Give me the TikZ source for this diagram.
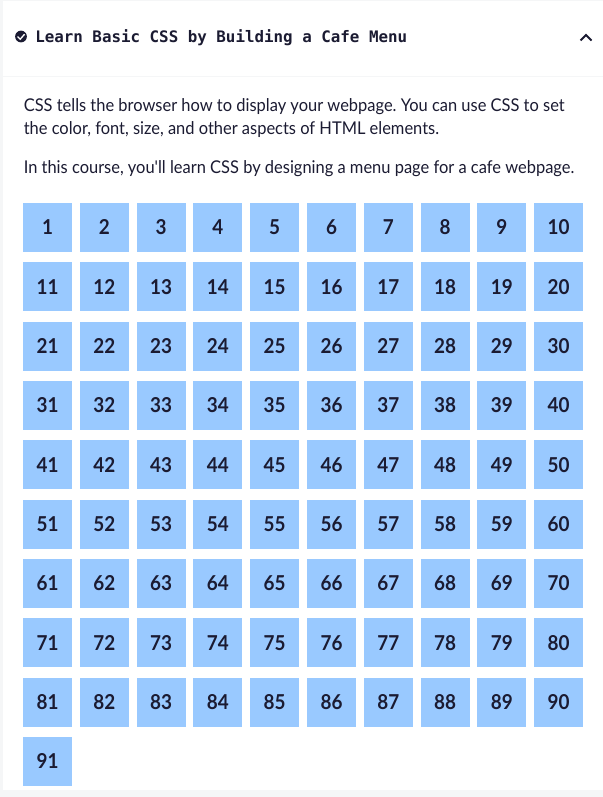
\documentclass[tikz,border=0pt]{standalone}
\usepackage{fontspec}
\setmainfont{Lato}
\setmonofont{DejaVu Sans Mono}
\newfontfamily\bodyface[FakeStretch=0.935]{Lato}
\newfontfamily\stepface[FakeStretch=0.92]{Lato}
\usepackage{xcolor}
\usetikzlibrary{positioning}
\definecolor{pagebg}{HTML}{F5F6F7}
\definecolor{inkdark}{HTML}{1B1B32}
\definecolor{stepblue}{HTML}{99C9FF}
\frenchspacing
\tikzset{
  stepbox/.style={fill=stepblue, text=inkdark, minimum width=36.75pt, minimum height=36.75pt,
    inner sep=0pt, text height=11pt, text depth=0pt, font=\fontsize{15.4}{18}\stepface\bfseries},
  para/.style={anchor=west, inner sep=0pt, text=inkdark, align=left,
    font=\fontsize{13.2}{18}\bodyface},
  heading/.style={anchor=west, inner sep=0pt, text=inkdark,
    font=\fontsize{11.88}{15}\selectfont\ttfamily\bfseries},
  rulebar/.style={draw=pagebg, line width=0.75pt}
}
\begin{document}
\begin{tikzpicture}[x=0.75pt, y=-0.75pt]
\useasboundingbox (0,0) rectangle (603,797);
\fill[pagebg] (0,0) rectangle (603,797);
\fill[white] (3,1) rectangle (603,790);
\coordinate (ruleL) at (3,76);
\coordinate (ruleR) at (603,76);
\draw[rulebar] (ruleL) -- (ruleR);

% header
\node[circle, fill=inkdark, minimum size=8.8pt, inner sep=0pt] (badge) at (21,36.5) {};
\draw[white, line width=1pt] (17.6,36.6) -- (20.2,39.2) -- (24.6,34.2);
\node[heading] (title) at (35,37.5) {Learn Basic CSS by Building a Cafe Menu};
\draw[inkdark, line width=1.4pt] (580.5,40.5) -- (586,35) -- (591.5,40.5);

% intro text
\node[para] (introa) at (23.5,106.5) {CSS tells the browser how to display your webpage. You can use CSS to set};
\node[para] (introb) at (23.5,130) {the color, font, size, and other aspects of HTML elements.};
\node[para] (introc) at (23.5,169) {In this course, you'll learn CSS by designing a menu page for a cafe webpage.};

% step grid
\foreach \n in {1,...,91}{
  \pgfmathtruncatemacro{\col}{mod(\n-1,10)}
  \pgfmathtruncatemacro{\row}{(\n-1)/10}
  \node[stepbox] (s\n) at ({47.5+56.8*\col},{227.5+59.35*\row}) {\n};
}
\end{tikzpicture}
\end{document}
